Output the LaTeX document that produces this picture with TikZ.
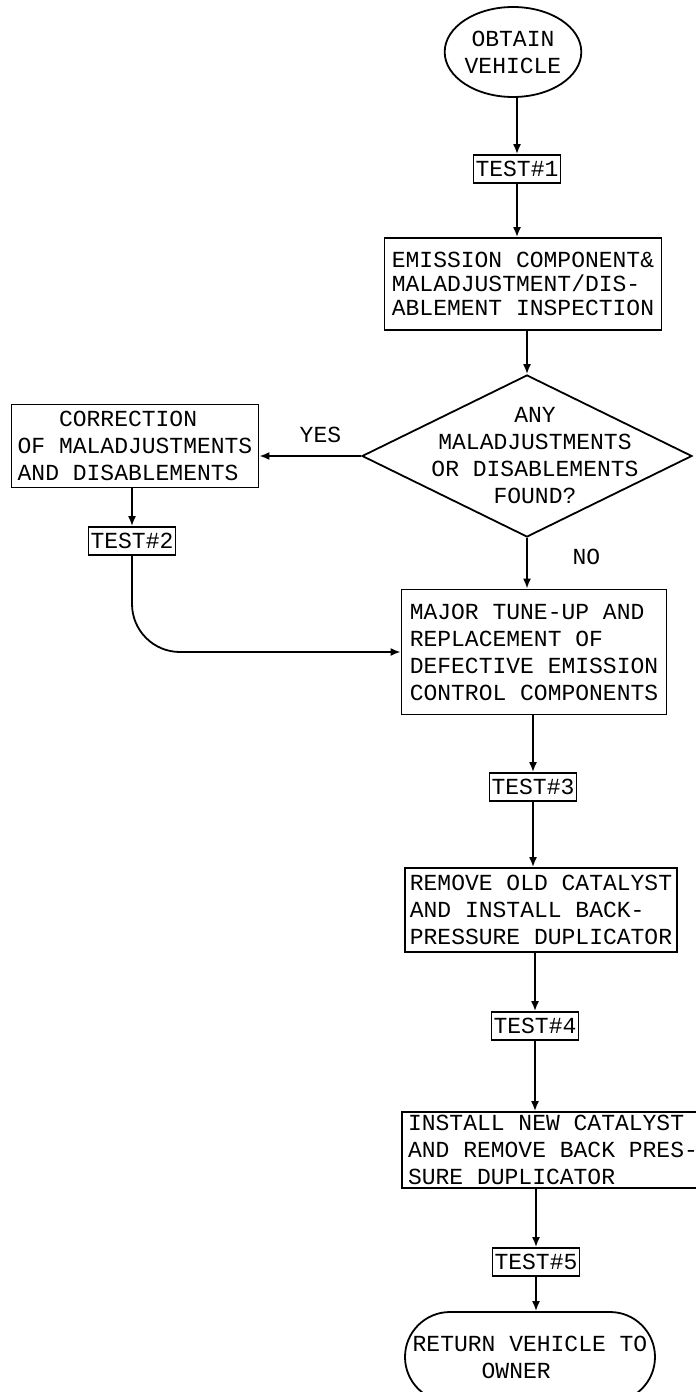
\documentclass[tikz,border=0pt]{standalone}
\usepackage{fontspec}
\setmonofont{Liberation Mono}
\usetikzlibrary{arrows.meta,shapes.geometric,shapes.misc}

\begin{document}
\begin{tikzpicture}[->,
            >={Latex[length=5pt,width=4pt]},
            x=0.5pt, y=0.5pt,
            line width=0.9pt,
            font=\ttfamily\fontsize{11.5}{13.5}\selectfont,
            stepbox/.style={draw, rectangle, align=left, inner sep=1pt},
            testbox/.style={draw, rectangle, inner xsep=1pt, inner ysep=0pt,
                            minimum height=14pt},
            decision/.style={draw, diamond, inner sep=0pt,
                             minimum width=165pt, minimum height=81pt}]

        \useasboundingbox (0,0) rectangle (696,-1392);

        \node[ellipse,draw,align=center,inner sep=0pt,
              minimum width=63.5pt,minimum height=45pt] (obtain) at (513,-52) {OBTAIN\\VEHICLE};
        \node[testbox]  (t1)      [below of=obtain, node distance=58.5pt, xshift=2pt] {TEST\#1};
        \node[stepbox, minimum width=138.5pt, minimum height=46pt,
              font=\ttfamily\fontsize{11.5}{12}\selectfont]
                        (inspect) [below of=t1, node distance=57.5pt, xshift=3pt]
                        {EMISSION COMPONENT\&\\MALADJUSTMENT/DIS-\\ABLEMENT INSPECTION};
        \node[decision] (found)   [below of=inspect, node distance=86pt, xshift=2pt] {};
        \node[align=center] (foundtxt) at ([xshift=4pt]found.center)
                        {ANY\\MALADJUSTMENTS\\OR DISABLEMENTS\\FOUND?};
        \node[stepbox, minimum width=123.5pt, minimum height=41.5pt]
                        (fix)     [left of=found, node distance=196pt, yshift=5pt]
                        {\phantom{OF }CORRECTION\\OF MALADJUSTMENTS\\AND DISABLEMENTS};
        \node[testbox]  (t2)      [below of=fix, node distance=47.5pt, xshift=-1.5pt] {TEST\#2};
        \node[stepbox, minimum width=132.5pt, minimum height=62.5pt]
                        (major)   [below of=found, node distance=98pt, xshift=3.5pt]
                        {MAJOR TUNE-UP AND\\REPLACEMENT OF\\DEFECTIVE EMISSION\\CONTROL COMPONENTS};
        \node[testbox]  (t3)      [below of=major, node distance=67.5pt, xshift=-0.5pt] {TEST\#3};
        \node[stepbox, minimum width=136pt, minimum height=42pt]
                        (remove)  [below of=t3, node distance=61.5pt, xshift=4pt]
                        {REMOVE OLD CATALYST\\AND INSTALL BACK-\\PRESSURE DUPLICATOR};
        \node[testbox]  (t4)      [below of=remove, node distance=58pt, xshift=-3pt] {TEST\#4};
        \node[stepbox, minimum width=151pt, minimum height=38pt]
                        (install) [below of=t4, node distance=62pt, xshift=9pt]
                        {INSTALL NEW CATALYST\\AND REMOVE BACK PRES-\\SURE DUPLICATOR};
        \node[testbox]  (t5)      [below of=install, node distance=56pt, xshift=-8.5pt] {TEST\#5};
        \node[rounded rectangle, draw, align=left, inner sep=0pt,
              minimum width=125pt, minimum height=45pt]
                        (owner)   [below of=t5, node distance=47.5pt, xshift=-3pt]
                        {RETURN VEHICLE TO\\\phantom{XXXXX}OWNER};

        \path (obtain.south -| t1) edge (t1)
              (t1)                 edge (t1 |- inspect.north)
              (inspect.south -| found) edge (found)
              (found.west)         edge node[above=3pt, pos=0.4] (yes) {YES} (found.west -| fix.east)
              (found)              edge node[right=19pt, pos=0.38] (no) {NO} (found |- major.north)
              (fix.south -| t2)    edge (t2)
              (major.south -| t3)  edge (t3)
              (t3)                 edge (t3 |- remove.north)
              (remove.south -| t4) edge (t4)
              (t4)                 edge (t4 |- install.north)
              (install.south -| t5) edge (t5)
              (t5)                 edge (t5 |- owner.north);

        \draw[rounded corners=24pt] (t2) |- (major);

    \end{tikzpicture}
\end{document}
